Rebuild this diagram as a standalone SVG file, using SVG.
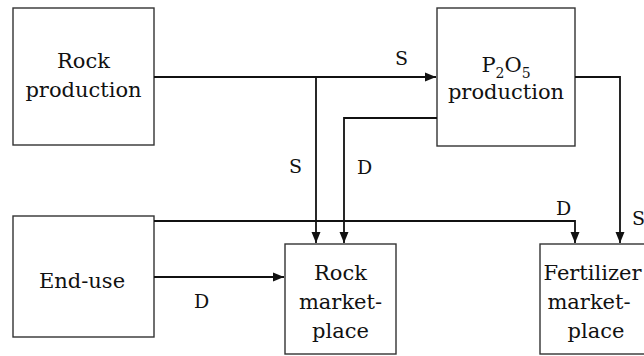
<svg xmlns="http://www.w3.org/2000/svg" width="644" height="356" viewBox="0 0 644 356">
<style>
.box{fill:#fff;stroke:#333;stroke-width:1.4}
.t{font-family:"DejaVu Serif","Liberation Serif",serif;font-size:21px;fill:#111;text-anchor:middle}
.lbl{font-family:"DejaVu Serif","Liberation Serif",serif;font-size:19px;fill:#111}
.c{fill:none;stroke:#111;stroke-width:1.8}
.sub{font-size:14px}
</style>
<defs>
<marker id="ah" markerUnits="userSpaceOnUse" markerWidth="12" markerHeight="10" refX="11" refY="5" orient="auto">
<path d="M0,0.5 L11,5 L0,9.5 z" fill="#111"/>
</marker>
</defs>
<rect width="644" height="356" fill="#fff"/>
<g id="rock-production">
<rect class="box" x="13" y="8" width="141" height="137"/>
<text class="t" x="83.5" y="68">Rock</text>
<text class="t" x="83.5" y="97">production</text>
</g>
<g id="p2o5-production">
<rect class="box" x="437" y="8" width="138" height="138"/>
<text class="t" x="506" y="72">P<tspan class="sub" dy="6">2</tspan><tspan dy="-6">O</tspan><tspan class="sub" dy="6">5</tspan></text>
<text class="t" x="506" y="99">production</text>
</g>
<g id="end-use">
<rect class="box" x="13" y="216" width="141" height="121"/>
<text class="t" x="82" y="288">End-use</text>
</g>
<g id="rock-marketplace">
<rect class="box" x="285" y="244" width="111" height="110"/>
<text class="t" x="340.5" y="280">Rock</text>
<text class="t" x="340.5" y="309">market-</text>
<text class="t" x="340.5" y="338">place</text>
</g>
<g id="fertilizer-marketplace">
<rect class="box" x="540" y="244" width="112" height="110"/>
<text class="t" x="592.5" y="280">Fertilizer</text>
<text class="t" x="589" y="309">market-</text>
<text class="t" x="596" y="338">place</text>
</g>
<g id="connectors">
<path class="c" d="M154,77 H436" marker-end="url(#ah)"/>
<path class="c" d="M316,77 V243" marker-end="url(#ah)"/>
<path class="c" d="M437,118 H344 V243" marker-end="url(#ah)"/>
<path class="c" d="M575,77 H620 V243" marker-end="url(#ah)"/>
<path class="c" d="M154,221 H575 V243" marker-end="url(#ah)"/>
<path class="c" d="M154,277 H284" marker-end="url(#ah)"/>
</g>
<g id="labels">
<text class="lbl" x="395" y="65">S</text>
<text class="lbl" x="289" y="173">S</text>
<text class="lbl" x="357" y="174">D</text>
<text class="lbl" x="556" y="215">D</text>
<text class="lbl" x="632" y="225">S</text>
<text class="lbl" x="194" y="308">D</text>
</g>
</svg>
